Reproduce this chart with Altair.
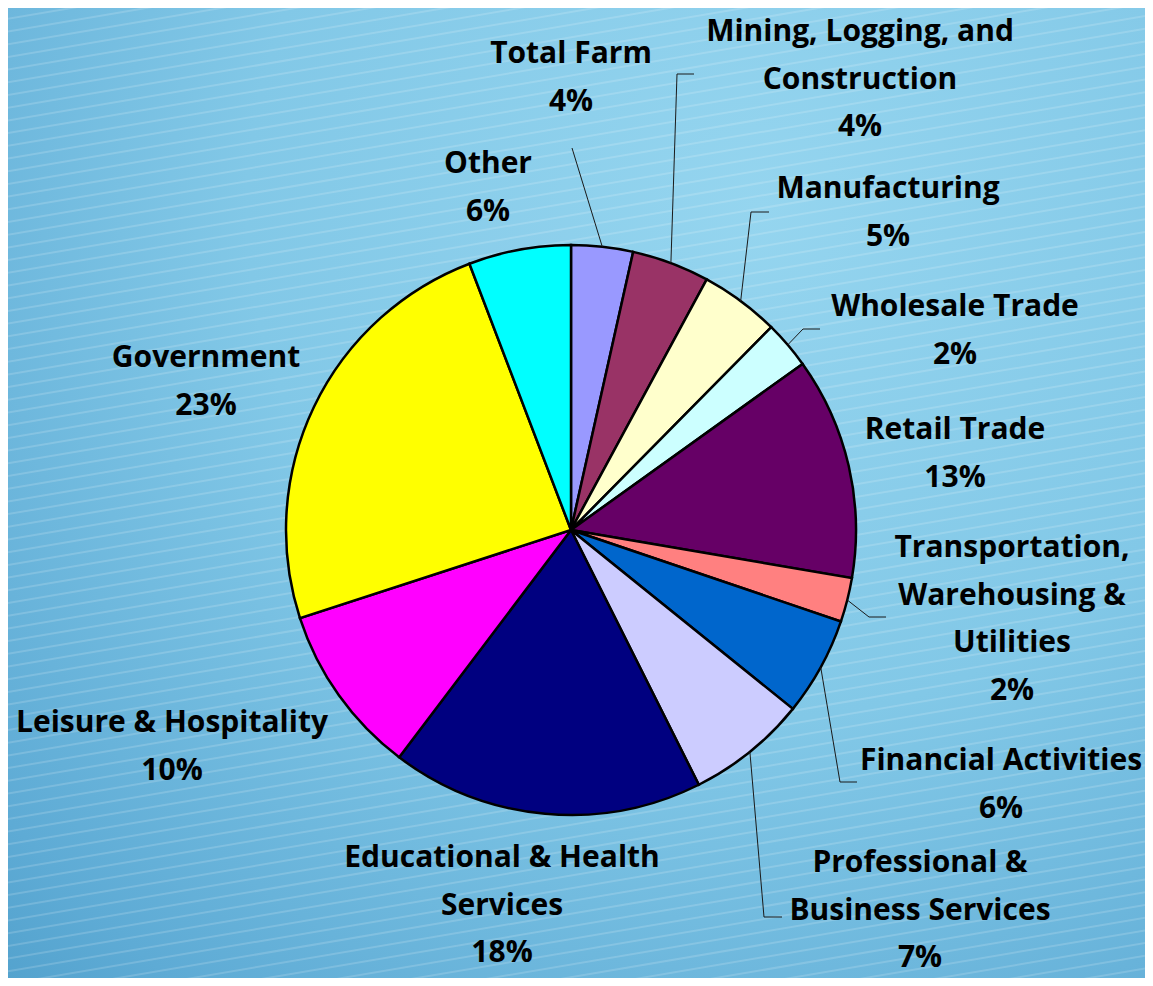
import altair as alt
import pandas as pd
import numpy as np

# ---------------- data ----------------
sectors = [
    "Total Farm",
    "Mining, Logging, and Construction",
    "Manufacturing",
    "Wholesale Trade",
    "Retail Trade",
    "Transportation, Warehousing & Utilities",
    "Financial Activities",
    "Professional & Business Services",
    "Educational & Health Services",
    "Leisure & Hospitality",
    "Government",
    "Other",
]
shares = [3.5, 4.4, 4.5, 2.7, 12.6, 2.5, 5.6, 6.8, 17.7, 9.7, 24.2, 5.8]
pct_labels = ["4%", "4%", "5%", "2%", "13%", "2%", "6%", "7%", "18%", "10%", "23%", "6%"]
label_lines = [
    ["Total Farm"],
    ["Mining, Logging, and", "Construction"],
    ["Manufacturing"],
    ["Wholesale Trade"],
    ["Retail Trade"],
    ["Transportation,", "Warehousing &", "Utilities"],
    ["Financial Activities"],
    ["Professional &", "Business Services"],
    ["Educational & Health", "Services"],
    ["Leisure & Hospitality"],
    ["Government"],
    ["Other"],
]
colors = ["#9999ff", "#993366", "#ffffcc", "#ccffff", "#660066", "#ff8080",
          "#0066cc", "#ccccff", "#000080", "#ff00ff", "#ffff00", "#00ffff"]

# ---------------- layout (page pixels) ----------------
W, H = 1137, 970
OFF = 8
CX, CY, R = 571 - OFF, 530 - OFF, 285
LH = 47.5
# label centre x, first-line baseline y (page coords)
label_pos = [
    (571, 63), (860, 41), (888, 198), (955, 316), (955, 439), (1012, 557),
    (1001, 770), (920, 872), (502, 867), (172, 732), (206, 367), (488, 173),
]
# leader elbows after the point on the pie edge (page coords)
leader_pts = {
    0: [(572, 148)],
    1: [(677, 74), (694, 74)],
    2: [(751, 212), (769, 212)],
    3: [(803, 329), (820, 329)],
    5: [(869, 617), (886, 617)],
    6: [(840, 782), (857, 782)],
    7: [(764, 917), (782, 917)],
}

# ---------------- tables ----------------
df = pd.DataFrame({"sector": sectors, "share": shares, "idx": list(range(len(sectors)))})

lab_rows = []
for i, s in enumerate(sectors):
    lx, ly = label_pos[i]
    lab_rows.append({"x": lx - OFF, "y": ly - OFF,
                     "text": "\n".join(label_lines[i] + [pct_labels[i]])})
lab_df = pd.DataFrame(lab_rows)

total = float(sum(shares))
cum = np.cumsum([0.0] + shares[:-1])
seg_rows = []
for i, pts in leader_pts.items():
    mid = (cum[i] + shares[i] / 2) / total * 2 * np.pi
    sx, sy = CX + R * np.sin(mid), CY - R * np.cos(mid)
    prev = (sx, sy)
    for (px, py) in pts:
        cur = (px - OFF, py - OFF)
        seg_rows.append({"x": prev[0], "y": prev[1], "x2": cur[0], "y2": cur[1]})
        prev = cur
seg_df = pd.DataFrame(seg_rows)

# decorative background streaks
streak_b = np.arange(-40, H + 240, 12.7)
streak_df = pd.DataFrame({"x": 0.0, "y": streak_b, "x2": float(W), "y2": streak_b - 0.17 * W})

xs = alt.Scale(domain=[0, W], nice=False, zero=False)
ys = alt.Scale(domain=[0, H], nice=False, zero=False, reverse=True)

bg_grad = alt.Gradient(
    gradient="radial",
    stops=[alt.GradientStop(color="#95d5ef", offset=0),
           alt.GradientStop(color="#82c8e7", offset=0.45),
           alt.GradientStop(color="#5eabd5", offset=0.85),
           alt.GradientStop(color="#4e9eca", offset=1)],
    x1=0.66, y1=0.25, r1=0, x2=0.66, y2=0.25, r2=1.0,
)

background = alt.Chart(pd.DataFrame({"a": [0]})).mark_rect(fill=bg_grad).encode(
    x=alt.value(0), x2=alt.value(W), y=alt.value(0), y2=alt.value(H)
)

streaks = alt.Chart(streak_df).mark_rule(color="white", strokeWidth=2, opacity=0.16).encode(
    x=alt.X("x:Q", scale=xs, axis=None), y=alt.Y("y:Q", scale=ys, axis=None),
    x2="x2:Q", y2="y2:Q",
)

pie = alt.Chart(df).mark_arc(outerRadius=R, stroke="black", strokeWidth=2.5).encode(
    theta=alt.Theta("share:Q", stack=True),
    order=alt.Order("idx:Q"),
    color=alt.Color("sector:N", scale=alt.Scale(domain=sectors, range=colors), legend=None),
    x=alt.value(CX), y=alt.value(CY),
)

leaders = alt.Chart(seg_df).mark_rule(color="#1a1a1a", strokeWidth=1).encode(
    x=alt.X("x:Q", scale=xs, axis=None), y=alt.Y("y:Q", scale=ys, axis=None),
    x2="x2:Q", y2="y2:Q",
)

labels = alt.Chart(lab_df).mark_text(
    lineBreak="\n", lineHeight=LH, align="center", baseline="alphabetic",
    font="Open Sans", fontWeight="bold", fontSize=30, color="#000000",
).encode(
    x=alt.X("x:Q", scale=xs, axis=None), y=alt.Y("y:Q", scale=ys, axis=None),
    text="text:N",
)

chart = alt.layer(background, streaks, pie, leaders, labels).properties(
    width=W, height=H, padding=0,
    autosize=alt.AutoSizeParams(type="none"),
).configure_view(stroke=None).configure(background="#5aa9d3")

chart.save("out.html", embed_options={"renderer": "svg", "actions": False})
